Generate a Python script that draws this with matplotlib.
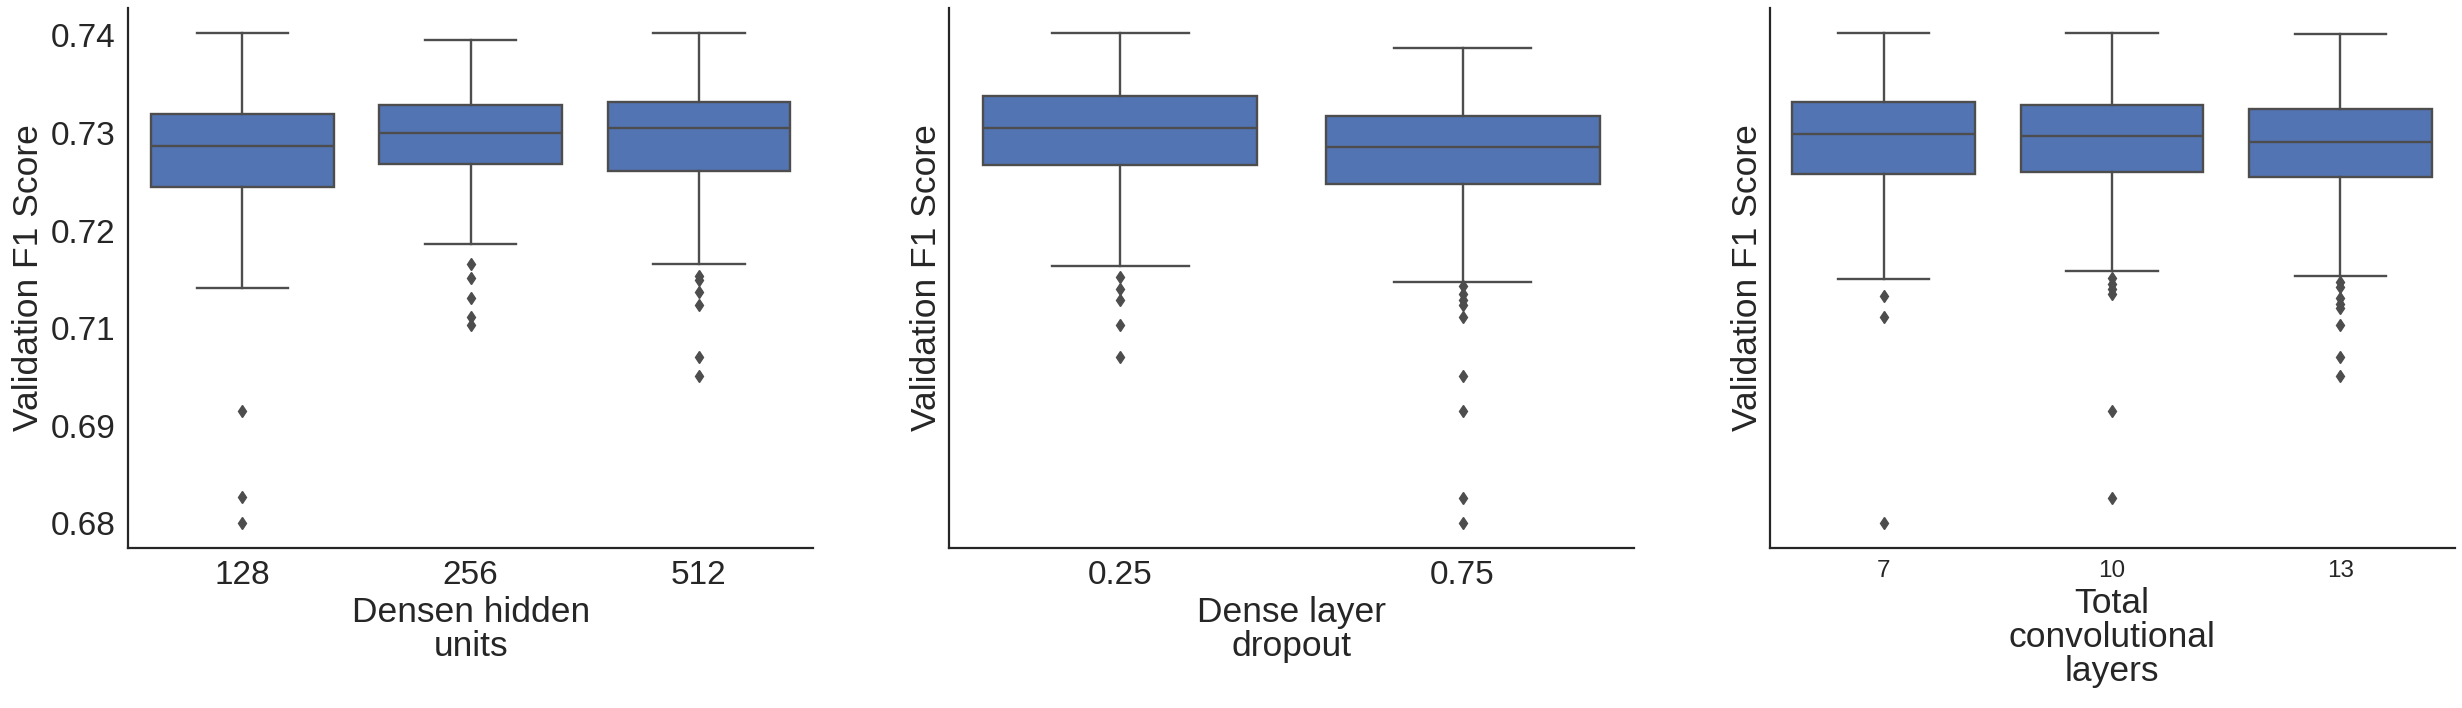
import matplotlib

matplotlib.use("Agg")
import matplotlib.pyplot as plt

FIG_W, FIG_H, DPI = 24.62, 7.08, 100

BOX_COLOR = "#5274b3"
LINE_COLOR = "#4d4d4d"
TEXT_COLOR = "#262626"

# y ticks as they appear on the original figure (labels were truncated there)
YTICK_VALUES = [0.69, 0.70, 0.71, 0.72, 0.73, 0.74]
YTICK_LABELS = ["0.68", "0.69", "0.71", "0.72", "0.73", "0.74"]

# --- dense hidden units ---
units_cats = ["128", "256", "512"]
units_q1 = [0.7245, 0.7268, 0.7261]
units_med = [0.7287, 0.7300, 0.7305]
units_q3 = [0.7320, 0.7329, 0.7332]
units_whislo = [0.7141, 0.7186, 0.7166]
units_whishi = [0.7403, 0.7395, 0.7403]
units_fliers = [
    [0.7015, 0.6927, 0.6900],
    [0.7166, 0.7152, 0.7131, 0.7112, 0.7103],
    [0.7154, 0.7149, 0.7137, 0.7124, 0.7071, 0.7051],
]

# --- dense layer dropout ---
dropout_cats = ["0.25", "0.75"]
dropout_q1 = [0.7267, 0.7248]
dropout_med = [0.7305, 0.7286]
dropout_q3 = [0.7338, 0.7318]
dropout_whislo = [0.7164, 0.7147]
dropout_whishi = [0.7403, 0.7387]
dropout_fliers = [
    [0.7153, 0.7140, 0.7129, 0.7103, 0.7071],
    [0.7143, 0.7135, 0.7129, 0.7124, 0.7112, 0.7051, 0.7015, 0.6926, 0.6900],
]

# --- total convolutional layers ---
conv_cats = ["7", "10", "13"]
conv_q1 = [0.7258, 0.7260, 0.7255]
conv_med = [0.7299, 0.7297, 0.7291]
conv_q3 = [0.7332, 0.7329, 0.7325]
conv_whislo = [0.7150, 0.7159, 0.7154]
conv_whishi = [0.7403, 0.7403, 0.7402]
conv_fliers = [
    [0.7133, 0.7112, 0.6900],
    [0.7152, 0.7145, 0.7140, 0.7135, 0.7015, 0.6926],
    [0.7147, 0.7142, 0.7131, 0.7125, 0.7121, 0.7103, 0.7071, 0.7051],
]


def build_stats(cats, q1, med, q3, whislo, whishi, fliers):
    stats = []
    for i, cat in enumerate(cats):
        stats.append(
            {
                "label": cat,
                "q1": q1[i],
                "med": med[i],
                "q3": q3[i],
                "whislo": whislo[i],
                "whishi": whishi[i],
                "fliers": fliers[i],
            }
        )
    return stats


def draw_panel(ax, stats, xlabel, tick_size):
    positions = list(range(len(stats)))
    line = dict(color=LINE_COLOR, linewidth=1.7)
    ax.bxp(
        stats,
        positions=positions,
        widths=0.8,
        patch_artist=True,
        boxprops=dict(facecolor=BOX_COLOR, edgecolor=LINE_COLOR, linewidth=1.7),
        medianprops=line,
        whiskerprops=line,
        capprops=line,
        flierprops=dict(
            marker="d",
            markersize=6,
            markerfacecolor=LINE_COLOR,
            markeredgecolor=LINE_COLOR,
            linestyle="none",
        ),
    )
    ax.set_xlim(-0.5, len(stats) - 0.5)
    ax.set_xticks(positions)
    ax.set_xticklabels([s["label"] for s in stats], fontsize=tick_size)
    ax.set_xlabel(xlabel, fontsize=25.5, color=TEXT_COLOR, linespacing=1.05, labelpad=3)
    ax.set_ylabel("Validation F1 Score", fontsize=25.5, color=TEXT_COLOR, labelpad=4)
    ax.tick_params(axis="both", length=0, pad=9, colors=TEXT_COLOR)
    ax.tick_params(axis="y", labelsize=24)

    for side in ["top", "right"]:
        ax.spines[side].set_visible(False)
    for side in ["left", "bottom"]:
        ax.spines[side].set_color(TEXT_COLOR)
        ax.spines[side].set_linewidth(1.6)


def main():
    plt.rcParams["font.family"] = ["Liberation Sans", "DejaVu Sans"]

    fig, axes = plt.subplots(1, 3, figsize=(FIG_W, FIG_H), dpi=DPI, sharey=True)
    fig.subplots_adjust(left=0.052, right=0.997, bottom=0.226, top=0.9887, wspace=0.198)

    draw_panel(
        axes[0],
        build_stats(units_cats, units_q1, units_med, units_q3, units_whislo, units_whishi, units_fliers),
        "Densen hidden\nunits",
        24,
    )
    draw_panel(
        axes[1],
        build_stats(dropout_cats, dropout_q1, dropout_med, dropout_q3, dropout_whislo, dropout_whishi, dropout_fliers),
        "Dense layer\ndropout",
        24,
    )
    draw_panel(
        axes[2],
        build_stats(conv_cats, conv_q1, conv_med, conv_q3, conv_whislo, conv_whishi, conv_fliers),
        "Total\nconvolutional\nlayers",
        17.5,
    )

    axes[0].set_yticks(YTICK_VALUES)
    axes[0].set_yticklabels(YTICK_LABELS)

    fig.savefig("out.png", dpi=DPI)
    plt.close(fig)


if __name__ == "__main__":
    main()
